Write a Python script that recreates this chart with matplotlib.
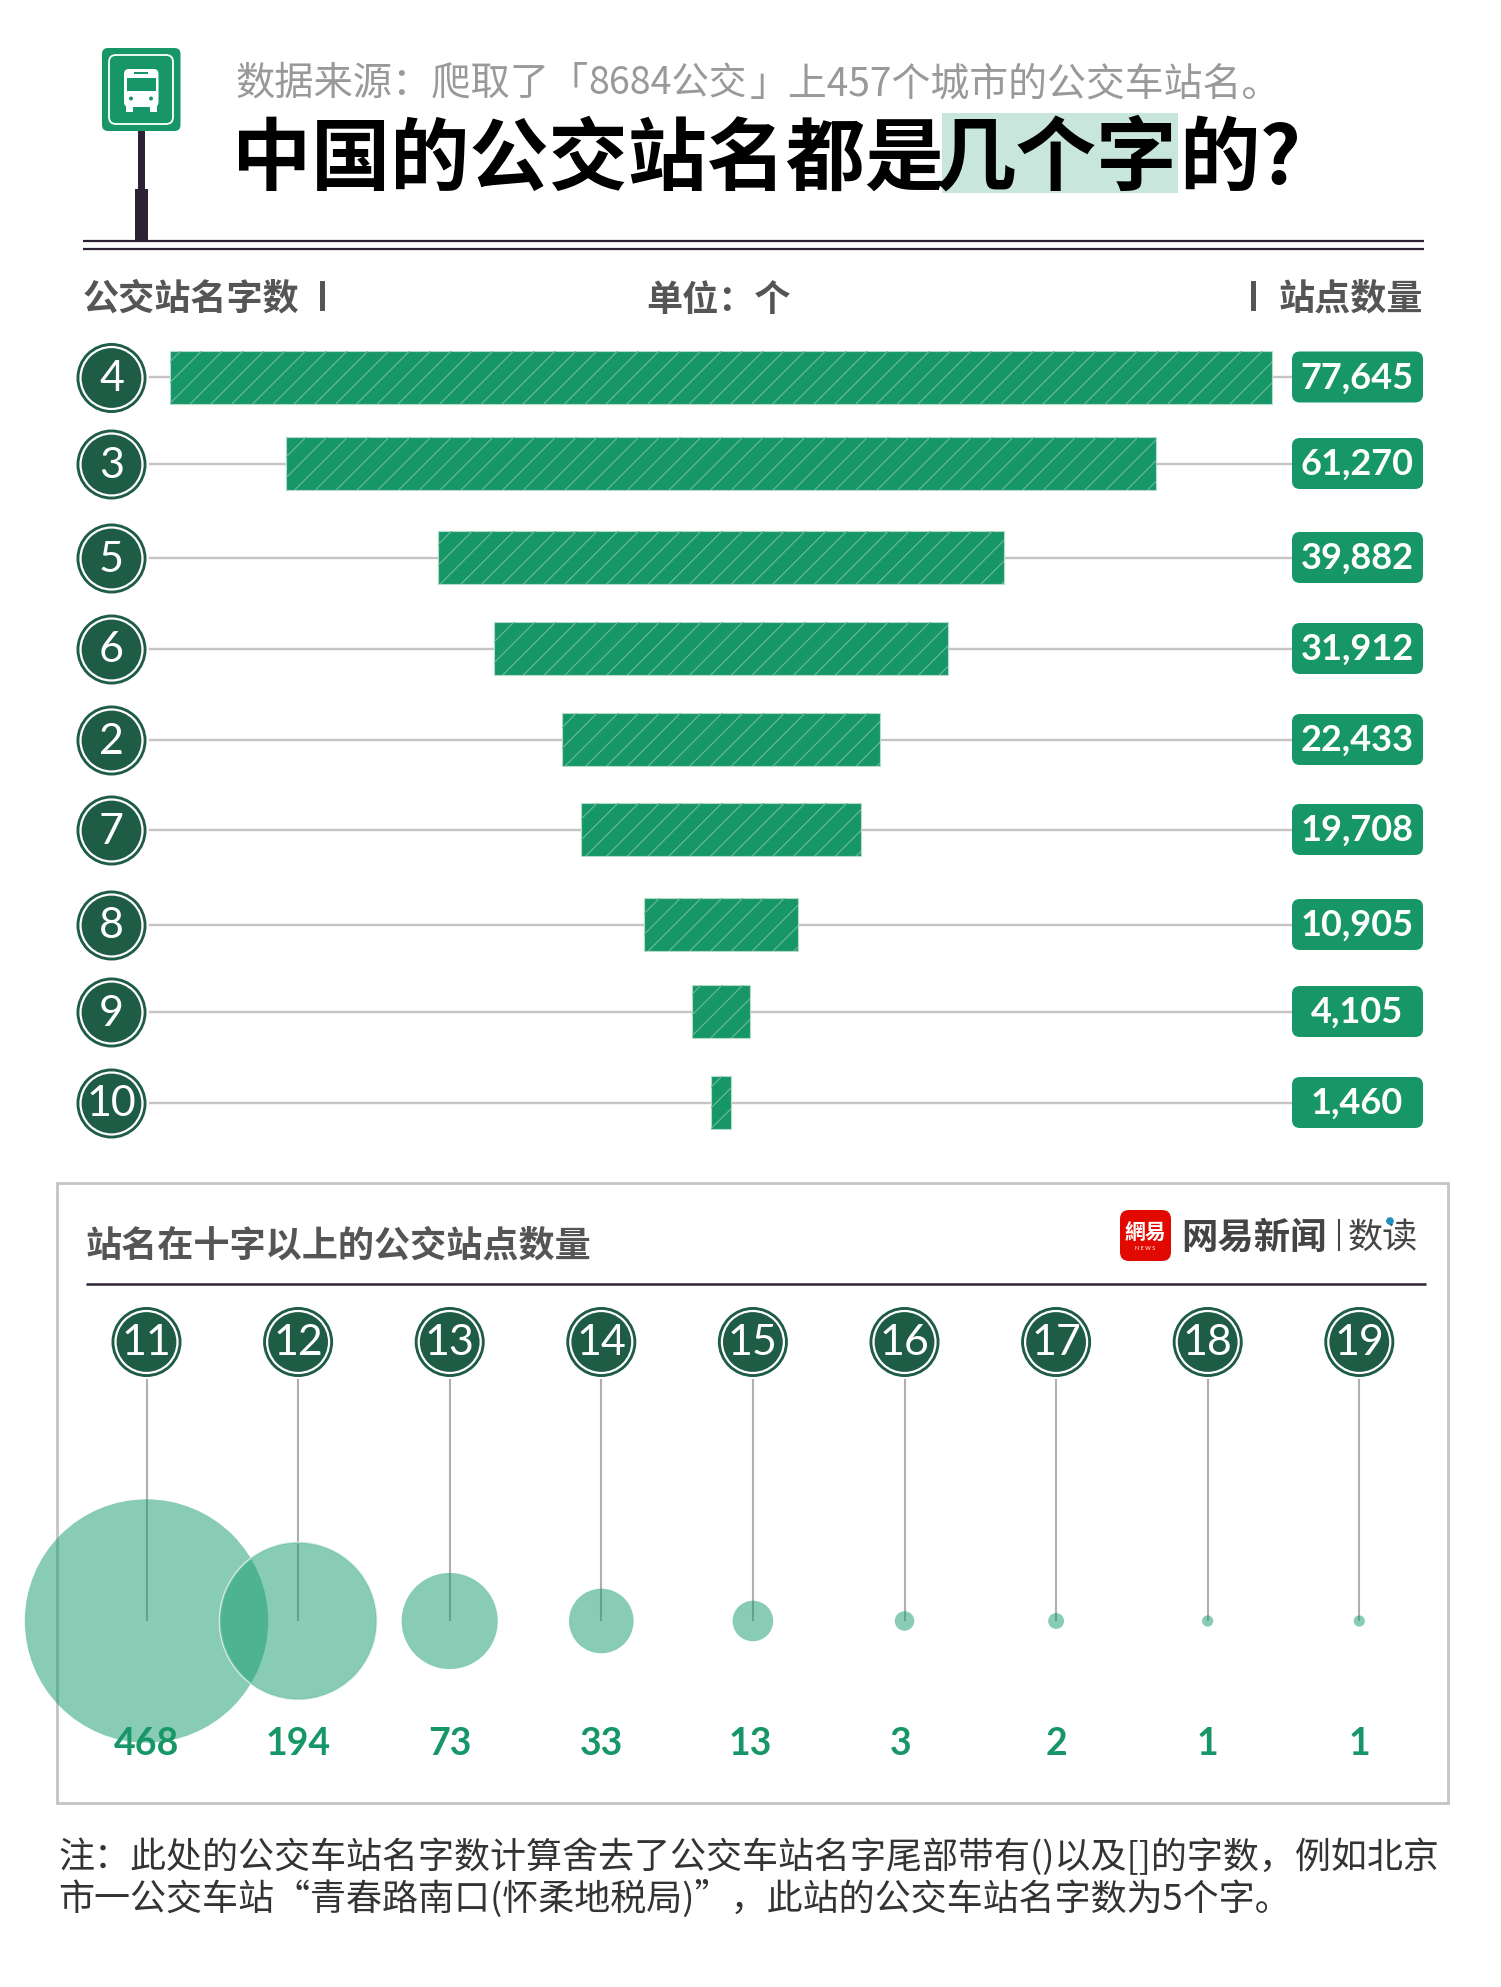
import numpy as np
import matplotlib
matplotlib.use("Agg")
import matplotlib.pyplot as plt
from matplotlib.patches import Circle, FancyBboxPatch, Rectangle

CJK = ['Noto Sans CJK SC', 'DejaVu Sans']
LAT = ['Lato', 'Noto Sans CJK SC']
plt.rcParams['font.family'] = CJK

# data
lengths = ['4', '3', '5', '6', '2', '7', '8', '9', '10']
counts = [77645, 61270, 39882, 31912, 22433, 19708, 10905, 4105, 1460]
long_lengths = ['11', '12', '13', '14', '15', '16', '17', '18', '19']
long_counts = [468, 194, 73, 33, 13, 3, 2, 1, 1]
subtitle_parts = ['数据来源：爬取了「', '8684公交', '」上457个城市的公交车站名。']
title_parts = ['中国的公交站名都是', '几个字', '的?']
note_lines = ['注：此处的公交车站名字数计算舍去了公交车站名字尾部带有()以及[]的字数，例如北京',
              '市一公交车站“青春路南口(怀柔地税局)”，此站的公交车站名字数为5个字。']

row_y = [377, 463.5, 557.5, 648.5, 739.5, 829.5, 924.5, 1011.5, 1102.5]
label_dx = [0, 0, 0, 0, -3, -4, 0, 0, 0]
GREEN = '#179768'; DARK = '#1e5c45'; INK = '#2d2233'; GRID = '#c6c3c6'; GREY = '#555555'
W, H = 1501, 1987
fig = plt.figure(figsize=(W/100, H/100), dpi=100, facecolor='white')
ax = fig.add_axes([0, 0, 1, 1], zorder=0)
ax.set_xlim(0, W); ax.set_ylim(H, 0); ax.axis('off')

# bar axes: same pixel y, x in stations, zero at the funnel centre
PX_PER = 1103 / 77645
CX = 721
axb = fig.add_axes([0, 0, 1, 1], zorder=1)
axb.patch.set_alpha(0)
axb.set_xlim(-CX/PX_PER, (W-CX)/PX_PER); axb.set_ylim(H, 0); axb.axis('off')
bars = axb.barh(row_y, counts, left=[-c/2 for c in counts], height=53, color=GREEN,
                edgecolor='#b5dccb', linewidth=0.8)

# hatch: thin 45 degree strokes, clipped to each bar
axh = fig.add_axes([0, 0, 1, 1], zorder=2)
axh.patch.set_alpha(0)
axh.set_xlim(0, W); axh.set_ylim(H, 0); axh.axis('off')
for b, y in zip(bars, row_y):
    for x0 in np.arange(0, W + 200, 20.8):
        ln, = axh.plot([x0, x0 + 60], [y + 30, y - 30], color='#6dbb9c', lw=0.8, zorder=2)
        ln.set_clip_path(b)

def badge(x, y, s):
    ax.add_patch(Circle((x, y), 35, fc=DARK, ec='none', zorder=3))
    ax.add_patch(Circle((x, y), 31, fc=DARK, ec='white', lw=1.6, zorder=4))
    ax.text(x, y+1, s, color='white', fontsize=31, family=LAT, ha='center', va='center', zorder=5)

for y, n, c in zip(row_y, lengths, counts):
    ax.plot([150, 1291], [y, y], color=GRID, lw=1.7, zorder=1)
    badge(111.5, y + 1, n)
    ax.add_patch(FancyBboxPatch((1292, y-25.5), 131, 51, boxstyle='round,pad=0,rounding_size=8',
                                fc=GREEN, ec='none', zorder=2))
    ax.text(1357, y+1, f'{c:,}', color='white', fontsize=26, family=LAT, weight='bold',
            ha='center', va='center', zorder=3)

# header
ax.add_patch(FancyBboxPatch((102, 48), 78.5, 83, boxstyle='round,pad=0,rounding_size=6', fc=GREEN, ec='none', zorder=3))
ax.add_patch(FancyBboxPatch((109, 55), 64, 69, boxstyle='round,pad=0,rounding_size=7', fc=GREEN, ec='white', lw=1.3, zorder=3))
ax.add_patch(Rectangle((138, 131), 7, 60, fc=INK, ec='none', zorder=2))
ax.add_patch(Rectangle((135, 189), 13, 52, fc=INK, ec='none', zorder=2))
# bus icon
ax.add_patch(FancyBboxPatch((124, 69), 34.5, 38, boxstyle='round,pad=0,rounding_size=5', fc='white', ec='none', zorder=4))
ax.add_patch(Rectangle((127, 78), 29, 13, fc=GREEN, ec='none', zorder=5))
ax.add_patch(Rectangle((134, 72), 14, 2.4, fc=GREEN, ec='none', zorder=5))
ax.add_patch(Rectangle((126, 106), 7, 6, fc='white', ec='none', zorder=4))
ax.add_patch(Rectangle((150, 106), 7, 6, fc='white', ec='none', zorder=4))
ax.add_patch(Circle((131, 98.5), 2, fc=GREEN, ec='none', zorder=5))
ax.add_patch(Circle((151, 98.5), 2, fc=GREEN, ec='none', zorder=5))

for y in (241, 249):
    ax.plot([83, 1424], [y, y], color=INK, lw=1.6, zorder=2, solid_capstyle='butt')

for x, s, fs in zip((235, 588, 750), subtitle_parts, (28.3, 27, 28)):
    ax.text(x, 84, s, color='#999999', fontsize=fs, weight='light', va='center', ha='left')

ax.add_patch(Rectangle((942, 113), 236, 80, fc='#c8e6dc', ec='none', zorder=1))
ax.text(232, 160, title_parts[0], color='black', fontsize=57, weight='black', va='center', ha='left', zorder=2)
ax.text(936, 160, title_parts[1], color='black', fontsize=58, weight='black', va='center', ha='left', zorder=2)
ax.text(1179, 160, title_parts[2], color='black', fontsize=58, weight='black', va='center', ha='left', zorder=2)

ax.text(83, 299, '公交站名字数', color=GREY, fontsize=26, weight='bold', va='center', ha='left')
ax.text(718, 300, '单位：个', color=GREY, fontsize=26, weight='bold', va='center', ha='center')
ax.text(1423, 299, '站点数量', color=GREY, fontsize=26, weight='bold', va='center', ha='right')
ax.add_patch(Rectangle((320, 281), 5, 30, fc=GREY, ec='none'))
ax.add_patch(Rectangle((1251, 281), 5, 30, fc=GREY, ec='none'))

# panel
ax.add_patch(Rectangle((57, 1183), 1391, 620, fc='none', ec='#c4c4c4', lw=2, zorder=1))
ax.text(86, 1246, '站名在十字以上的公交站点数量', color=GREY, fontsize=26, weight='bold', va='center', ha='left')
ax.plot([86, 1426], [1284, 1284], color=INK, lw=1.8, solid_capstyle='butt')

# logo
ax.add_patch(FancyBboxPatch((1120, 1210), 51, 51, boxstyle='round,pad=0,rounding_size=9', fc='#e20a00', ec='none'))
ax.text(1145.5, 1233, '網易', color='white', fontsize=15, weight='bold', ha='center', va='center')
ax.text(1145.5, 1248, 'N E W S', color='white', fontsize=4, family=LAT, ha='center', va='center')
ax.text(1181, 1238, '网易新闻', color='#444444', fontsize=26.2, weight='bold', ha='left', va='center')
ax.add_patch(Rectangle((1338, 1219), 1.6, 32, fc='#444444', ec='none'))
ax.text(1348, 1238, '数读', color='#444444', fontsize=25.3, ha='left', va='center')
ax.add_patch(Circle((1390, 1221), 3.8, fc='#1c8fbf', ec='none', zorder=3))

# bubbles
BX0, BDX, BY = 146.5, 151.6, 1621
R_K = 121.7 / np.sqrt(468)
xs = [BX0 + BDX*i for i in range(len(long_counts))]
for x, n, c, dx in zip(xs, long_lengths, long_counts, label_dx):
    ax.plot([x, x], [1379, 1621], color='#afafb1', lw=1.5, zorder=1, solid_capstyle='butt')
    badge(x, 1342, n)
    if n == '12':
        ax.add_patch(Circle((x, BY), R_K*np.sqrt(c), fc='none', ec='#dff0e9', lw=1.5, zorder=2))
    ax.add_patch(Circle((x, BY), R_K*np.sqrt(c), fc='#149b6c', alpha=0.5, ec='none', zorder=2))
    ax.text(x + dx, 1744, str(c), color=GREEN, fontsize=27, family=LAT, weight='bold', ha='center', va='center', zorder=6)

for y, s in zip((1857, 1899), note_lines):
    ax.text(58.5, y, s, color='#333333', fontsize=25.95, ha='left', va='center')

fig.savefig('out.png', dpi=100)
